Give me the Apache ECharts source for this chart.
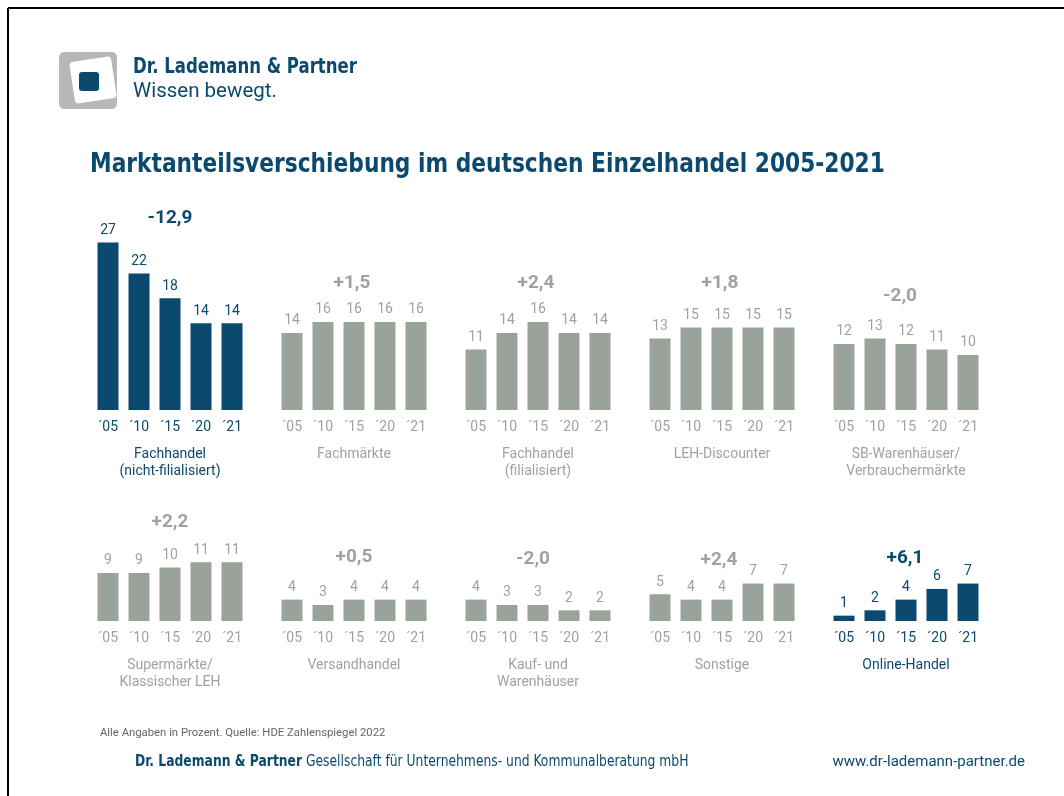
<!DOCTYPE html>
<html><head><meta charset="utf-8">
<script src="https://cdn.jsdelivr.net/npm/echarts@6/dist/echarts.min.js"></script>
<style>html,body{margin:0;padding:0;background:#fff}#c{width:1064px;height:796px}</style>
</head><body><div id="c"></div>
<script>
// ---- data ----
const categories = ['´05', '´10', '´15', '´20', '´21'];
const panelNames = [
  'Fachhandel\n(nicht-filialisiert)', 'Fachmärkte', 'Fachhandel\n(filialisiert)', 'LEH-Discounter', 'SB-Warenhäuser/\nVerbrauchermärkte',
  'Supermärkte/\nKlassischer LEH', 'Versandhandel', 'Kauf- und\nWarenhäuser', 'Sonstige', 'Online-Handel'
];
const fachhandelNichtFilialisiert = [27, 22, 18, 14, 14];
const fachmaerkte = [14, 16, 16, 16, 16];
const fachhandelFilialisiert = [11, 14, 16, 14, 14];
const lehDiscounter = [13, 15, 15, 15, 15];
const sbWarenhaeuser = [12, 13, 12, 11, 10];
const supermaerkte = [9, 9, 10, 11, 11];
const versandhandel = [4, 3, 4, 4, 4];
const kaufWarenhaeuser = [4, 3, 3, 2, 2];
const sonstige = [5, 4, 4, 7, 7];
const onlineHandel = [1, 2, 4, 6, 7];
const deltas = ['-12,9', '+1,5', '+2,4', '+1,8', '-2,0', '+2,2', '+0,5', '-2,0', '+2,4', '+6,1'];
const highlighted = [true, false, false, false, false, false, false, false, false, true];

const seriesData = [fachhandelNichtFilialisiert, fachmaerkte, fachhandelFilialisiert, lehDiscounter, sbWarenhaeuser,
  supermaerkte, versandhandel, kaufWarenhaeuser, sonstige, onlineHandel];

// ---- layout / style ----
const BLUE = '#0b4a6e', GRAY = '#9aa39a', GRAYTXT = '#9ca59d';
const FONT = 'Roboto, "Noto Sans", sans-serif';
const NARROW = '"Liberation Sans Narrow", "DejaVu Sans Condensed", sans-serif';
const rowBase = [410, 621];
const gridH = 170;
const yMax = [27.4, 30.9, 30.9, 30.9, 30.9, 31.8, 31.8, 31.8, 31.8, 31.8];
const deltaPos = [[170, 218], [352, 283], [536, 283], [720, 283], [900, 296],
  [170, 522], [354, 557], [533, 559], [719, 560], [905, 558]];

const grids = [], xAxes = [], yAxes = [], series = [];
seriesData.forEach((d, i) => {
  const col = i % 5, row = Math.floor(i / 5);
  const c = highlighted[i] ? BLUE : GRAYTXT;
  grids.push({ left: 92.5 + 184 * col, top: rowBase[row] - gridH, width: 155, height: gridH });
  xAxes.push({
    type: 'category', gridIndex: i, data: categories,
    axisLine: { show: false }, axisTick: { show: false },
    axisLabel: { margin: 10, fontSize: 14, color: c, fontFamily: FONT },
    name: panelNames[i], nameLocation: 'middle', nameGap: 36,
    nameTextStyle: { fontSize: 14, color: c, lineHeight: 17, fontFamily: FONT, verticalAlign: 'top' }
  });
  yAxes.push({ type: 'value', gridIndex: i, min: 0, max: yMax[i], show: false });
  series.push({
    type: 'bar', xAxisIndex: i, yAxisIndex: i, data: d, barWidth: 21,
    itemStyle: { color: highlighted[i] ? BLUE : GRAY },
    label: { show: true, position: 'top', distance: 5, fontSize: 14, color: c, fontFamily: FONT },
    silent: true, animation: false
  });
});

const graphics = [
  { type: 'line', shape: { x1: 8, y1: 8, x2: 1064, y2: 8 }, style: { stroke: '#000', lineWidth: 2 } },
  { type: 'line', shape: { x1: 8, y1: 8, x2: 8, y2: 796 }, style: { stroke: '#000', lineWidth: 2 } },
  // logo
  { type: 'rect', shape: { x: 59, y: 52, width: 58, height: 57, r: 5 }, style: { fill: '#b5b9b4' } },
  { type: 'rect', shape: { x: -21, y: -21, width: 42, height: 42, r: 4 }, x: 93, y: 80, rotation: 0.15, style: { fill: '#fff' } },
  { type: 'rect', shape: { x: 79, y: 72, width: 20, height: 19, r: 3 }, style: { fill: BLUE } },
  { type: 'text', x: 133, y: 68, scaleX: 0.875, style: { text: 'Dr. Lademann & Partner', fill: BLUE, font: 'bold 21px ' + NARROW, verticalAlign: 'middle' } },
  { type: 'text', x: 133, y: 92, style: { text: 'Wissen bewegt.', fill: BLUE, font: '20.5px ' + FONT, verticalAlign: 'middle' } },
  // title
  { type: 'text', x: 90, y: 165, scaleX: 0.93, style: { text: 'Marktanteilsverschiebung im deutschen Einzelhandel 2005-2021', fill: BLUE, font: 'bold 26px ' + NARROW, verticalAlign: 'middle' } },
  // footer
  { type: 'text', x: 100, y: 733, style: { text: 'Alle Angaben in Prozent. Quelle: HDE Zahlenspiegel 2022', fill: '#666', font: '11.3px ' + FONT, verticalAlign: 'middle' } },
  { type: 'text', x: 135, y: 762, scaleX: 0.914, style: { text: '{b|Dr. Lademann & Partner} Gesellschaft für Unternehmens- und Kommunalberatung mbH', fill: BLUE, font: '15px ' + NARROW, verticalAlign: 'middle',
      rich: { b: { font: 'bold 15px ' + NARROW, fill: BLUE } } } },
  { type: 'text', x: 1025, y: 762, style: { text: 'www.dr-lademann-partner.de', fill: BLUE, font: '15px ' + FONT, align: 'right', verticalAlign: 'middle' } }
];
deltas.forEach((t, i) => {
  graphics.push({ type: 'text', x: deltaPos[i][0], y: deltaPos[i][1],
    style: { text: t, fill: highlighted[i] ? BLUE : GRAYTXT, font: 'bold 19px ' + FONT, align: 'center', verticalAlign: 'middle' } });
});

const chart = echarts.init(document.getElementById('c'), null, { renderer: 'canvas' });
chart.setOption({
  animation: false,
  backgroundColor: '#fff',
  grid: grids, xAxis: xAxes, yAxis: yAxes, series: series,
  graphic: graphics
});
</script></body></html>
